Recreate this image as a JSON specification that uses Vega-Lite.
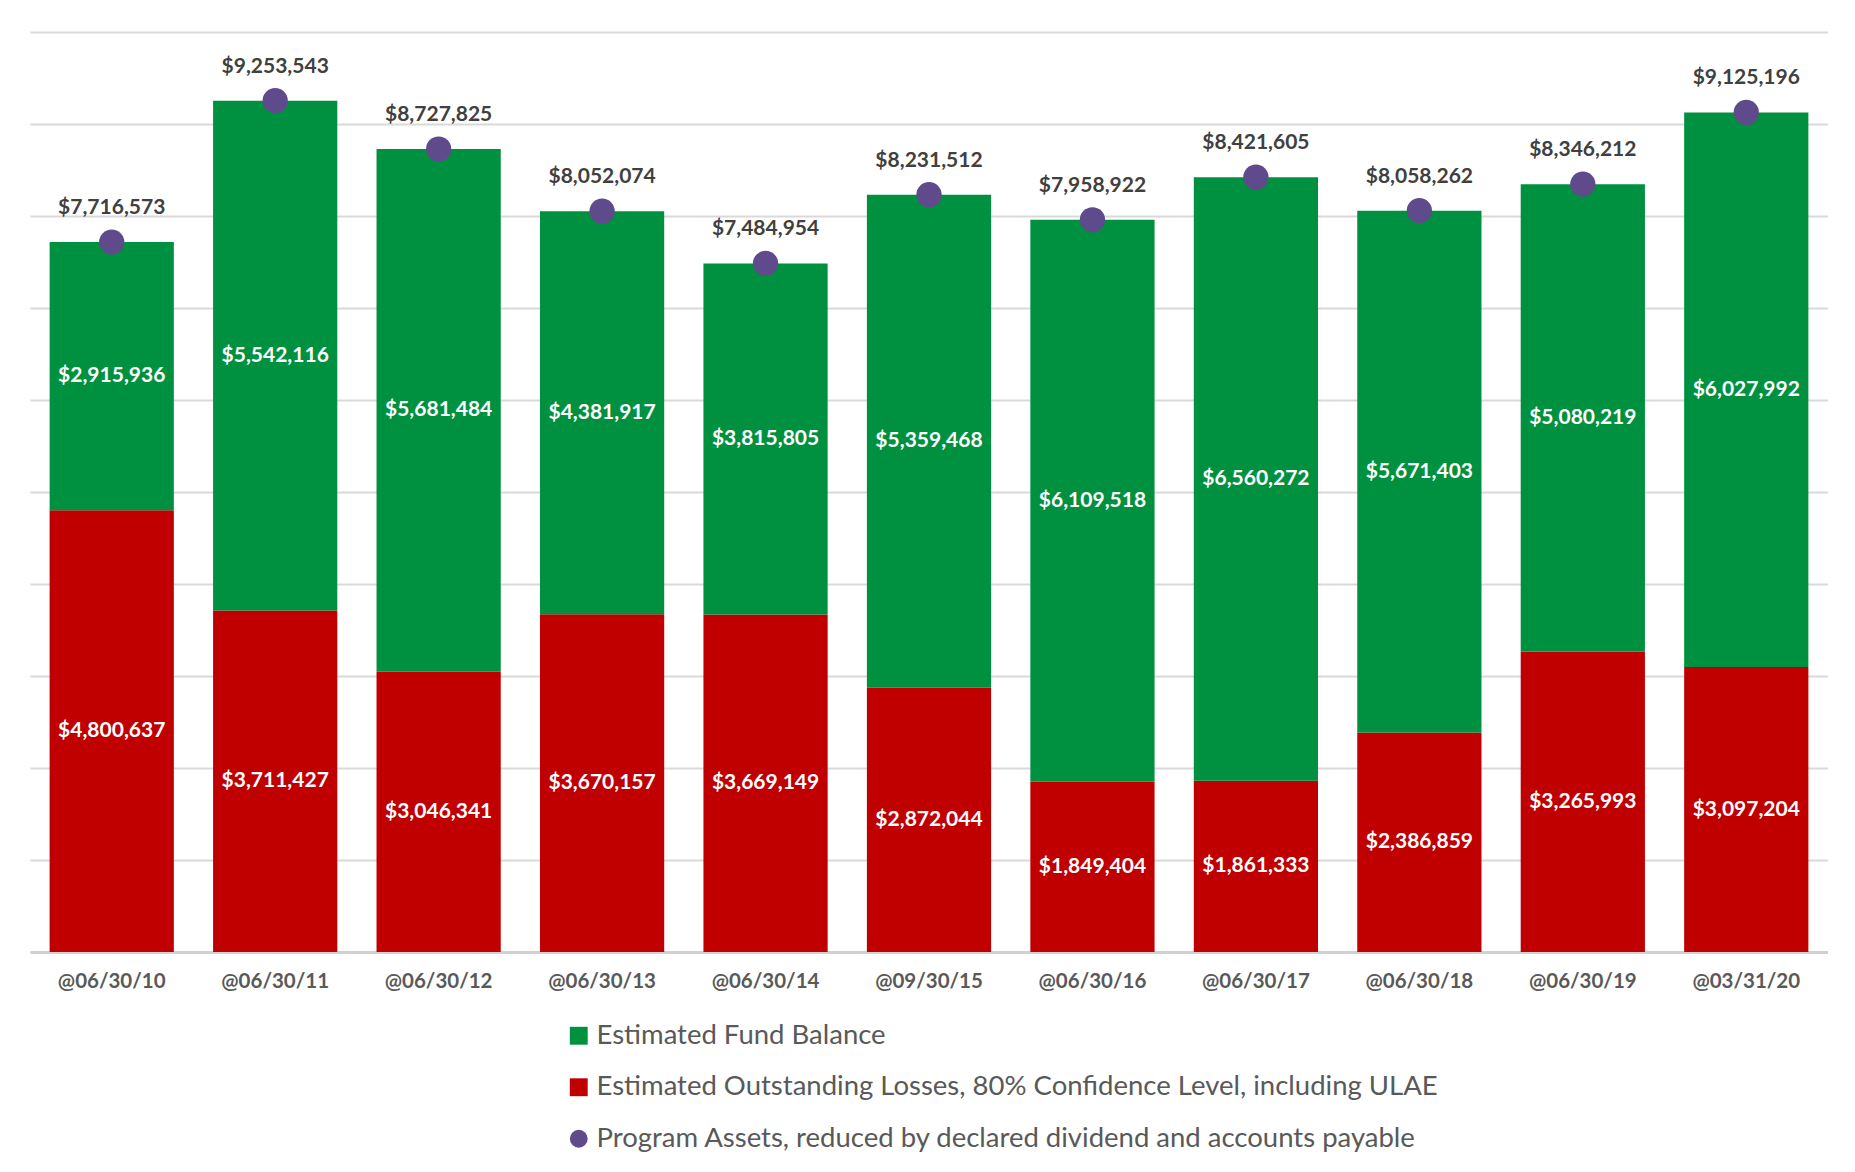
{
  "$schema": "https://vega.github.io/schema/vega-lite/v6.json",
  "width": 1798,
  "height": 920,
  "padding": {"left": 30, "top": 32, "right": 0, "bottom": 0},
  "background": "white",
  "config": {
    "view": {"stroke": null},
    "font": "Lato",
    "axis": {"labelFont": "Lato", "titleFont": "Lato"},
    "legend": {"labelFont": "Lato"}
  },
  "data": {
    "values": [
      {"date": "@06/30/10", "losses": 4800637, "balance": 2915936, "assets": 7716573},
      {"date": "@06/30/11", "losses": 3711427, "balance": 5542116, "assets": 9253543},
      {"date": "@06/30/12", "losses": 3046341, "balance": 5681484, "assets": 8727825},
      {"date": "@06/30/13", "losses": 3670157, "balance": 4381917, "assets": 8052074},
      {"date": "@06/30/14", "losses": 3669149, "balance": 3815805, "assets": 7484954},
      {"date": "@09/30/15", "losses": 2872044, "balance": 5359468, "assets": 8231512},
      {"date": "@06/30/16", "losses": 1849404, "balance": 6109518, "assets": 7958922},
      {"date": "@06/30/17", "losses": 1861333, "balance": 6560272, "assets": 8421605},
      {"date": "@06/30/18", "losses": 2386859, "balance": 5671403, "assets": 8058262},
      {"date": "@06/30/19", "losses": 3265993, "balance": 5080219, "assets": 8346212},
      {"date": "@03/31/20", "losses": 3097204, "balance": 6027992, "assets": 9125196}
    ]
  },
  "encoding": {
    "x": {
      "field": "date",
      "type": "nominal",
      "sort": null,
      "scale": {
        "domain": ["@06/30/10", "@06/30/11", "@06/30/12", "@06/30/13", "@06/30/14", "@09/30/15", "@06/30/16", "@06/30/17", "@06/30/18", "@06/30/19", "@03/31/20"],
        "paddingInner": 0.24,
        "paddingOuter": 0.12
      },
      "axis": {
        "title": null,
        "labelAngle": 0,
        "ticks": false,
        "domain": true,
        "domainColor": "#d0d0d0",
        "domainWidth": 3,
        "labelPadding": 19,
        "labelFontSize": 20.5,
        "labelFontWeight": "bold",
        "labelColor": "#595959",
        "grid": false
      }
    }
  },
  "layer": [
    {
      "transform": [{"fold": ["losses", "balance"], "as": ["series", "value"]}],
      "mark": {"type": "bar"},
      "encoding": {
        "y": {
          "field": "value",
          "type": "quantitative",
          "stack": "zero",
          "scale": {"domain": [0, 10000000], "nice": false, "zero": true},
          "axis": {
            "title": null,
            "labels": false,
            "ticks": false,
            "domain": false,
            "grid": true,
            "gridColor": "#d9d9d9",
            "gridWidth": 2,
            "values": [0, 1000000, 2000000, 3000000, 4000000, 5000000, 6000000, 7000000, 8000000, 9000000, 10000000]
          }
        },
        "color": {
          "field": "series",
          "type": "nominal",
          "scale": {
            "domain": ["balance", "losses", "assets"],
            "range": ["#009140", "#c00000", "#5f4b8b"]
          },
          "legend": {
            "title": null,
            "orient": "none",
            "legendX": 535,
            "legendY": 990,
            "direction": "vertical",
            "labelFontSize": 27.5,
            "labelColor": "#595959",
            "symbolSize": 320,
            "rowPadding": 22.5,
            "labelOffset": 4,
            "labelLimit": 1200,
            "labelExpr": "datum.value == 'balance' ? 'Estimated Fund Balance' : datum.value == 'losses' ? 'Estimated Outstanding Losses, 80% Confidence Level, including ULAE' : 'Program Assets, reduced by declared dividend and accounts payable'"
          }
        },
        "order": {"field": "series", "sort": "descending"}
      }
    },
    {
      "transform": [{"fold": ["assets"], "as": ["series", "value"]}],
      "mark": {"type": "point", "filled": true, "size": 640, "opacity": 1},
      "encoding": {
        "y": {"field": "value", "type": "quantitative"},
        "color": {"field": "series", "type": "nominal"},
        "shape": {
          "field": "series",
          "type": "nominal",
          "scale": {
            "domain": ["balance", "losses", "assets"],
            "range": ["square", "square", "circle"]
          }
        }
      }
    },
    {
      "mark": {"type": "text", "baseline": "middle", "dy": -34, "fontSize": 21, "fontWeight": "bold", "color": "#404040"},
      "encoding": {
        "y": {"field": "assets", "type": "quantitative"},
        "text": {"field": "assets", "type": "quantitative", "format": "$,.0f"}
      }
    },
    {
      "transform": [
        {"fold": ["losses", "balance"], "as": ["series", "value"]},
        {"stack": "value", "groupby": ["date"], "sort": [{"field": "series", "order": "descending"}], "as": ["v0", "v1"]},
        {"fold": ["v0", "v1"], "as": ["edge", "pos"]},
        {"aggregate": [{"op": "mean", "field": "pos", "as": "mid"}], "groupby": ["date", "series", "value"]}
      ],
      "mark": {"type": "text", "baseline": "middle", "fontSize": 21, "fontWeight": "bold", "color": "white"},
      "encoding": {
        "y": {"field": "mid", "type": "quantitative"},
        "text": {"field": "value", "type": "quantitative", "format": "$,.0f"}
      }
    }
  ]
}
